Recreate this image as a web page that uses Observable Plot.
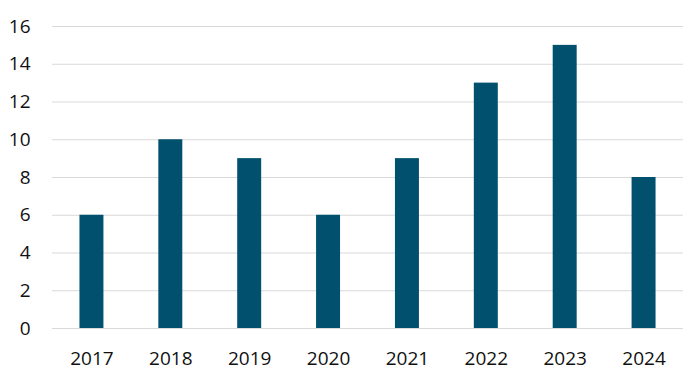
<!DOCTYPE html>
<html>
<head>
<meta charset="utf-8">
<script src="https://cdn.jsdelivr.net/npm/d3@7"></script>
<script src="https://cdn.jsdelivr.net/npm/@observablehq/plot@0.6"></script>
<style>
  html, body { margin: 0; padding: 0; background: #fff; }
  #chart { width: 699px; height: 378px; }
</style>
</head>
<body>
<div id="chart"></div>
<script>
const years = ["2017", "2018", "2019", "2020", "2021", "2022", "2023", "2024"];
const counts = [6, 10, 9, 6, 9, 13, 15, 8];
const yTicks = [0, 2, 4, 6, 8, 10, 12, 14, 16];

const data = years.map((y, i) => ({year: y, value: counts[i]}));

const chart = Plot.plot({
  width: 699,
  height: 378,
  marginLeft: 52,
  marginRight: 16,
  marginTop: 26,
  marginBottom: 50,
  style: {fontFamily: "'Open Sans', sans-serif", fontSize: "19px", color: "#111", background: "#fff"},
  x: {domain: years, paddingInner: 0.696, paddingOuter: 0.348, round: false, label: null},
  y: {domain: [0, 16], label: null},
  marks: [
    Plot.ruleY(yTicks, {stroke: "#d9d9d9", strokeWidth: 1}),
    Plot.barY(data, {x: "year", y: "value", fill: "#00506e"}),
    Plot.axisX({tickSize: 0, tickPadding: 23, fontSize: 19, label: null}),
    Plot.axisY({ticks: yTicks, tickSize: 0, tickPadding: 22, fontSize: 19, label: null})
  ]
});
document.getElementById("chart").appendChild(chart);
</script>
</body>
</html>
